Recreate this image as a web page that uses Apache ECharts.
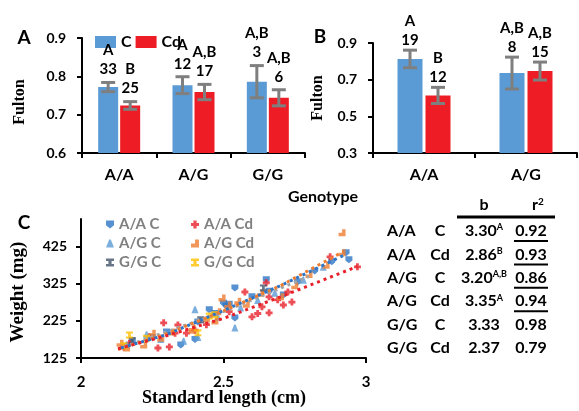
<!DOCTYPE html>
<html><head><meta charset="utf-8">
<script src="https://cdn.jsdelivr.net/npm/echarts@6/dist/echarts.min.js"></script>
<style>html,body{margin:0;padding:0;background:#fff}#c{width:579px;height:411px}</style>
</head><body><div id="c"></div>
<script>
// ---------- Panel A ----------
const genoA = ['A/A', 'A/G', 'G/G'];
const aC = [0.772, 0.777, 0.786];
const aCd = [0.724, 0.759, 0.744];
const aCErr = [0.012, 0.022, 0.042];
const aCdErr = [0.010, 0.020, 0.021];
const aCN = ['33', '12', '3'];
const aCdN = ['25', '17', '6'];
const aCLet = ['A', 'A', 'A,B'];
const aCdLet = ['B', 'A,B', 'A,B'];

// ---------- Panel B ----------
const genoB = ['A/A', 'A/G'];
const bC = [0.813, 0.736];
const bCd = [0.614, 0.747];
const bCErr = [0.048, 0.087];
const bCdErr = [0.044, 0.049];
const bCN = ['19', '8'];
const bCdN = ['12', '15'];
const bCLet = ['A', 'A,B'];
const bCdLet = ['B', 'A,B'];
const bTicks = [0.3, 0.5, 0.7, 0.9];

// ---------- Panel C ----------
const ptsAAC = [[2.18,168],[2.25,180],[2.30,195],[2.35,160],[2.40,175],[2.41,222],[2.45,255],[2.47,245],[2.50,273],[2.51,265],[2.52,270],[2.54,314],[2.54,233],[2.60,290],[2.65,336],[2.66,305],[2.71,295],[2.76,330],[2.82,360],[2.88,385],[2.93,409],[2.94,390]];
const ptsAACd = [[2.15,155],[2.17,165],[2.24,182],[2.27,152],[2.29,220],[2.31,155],[2.33,192],[2.34,214],[2.37,192],[2.40,200],[2.44,215],[2.52,250],[2.575,303],[2.60,236],[2.62,245],[2.635,263],[2.65,328],[2.66,290],[2.66,247],[2.69,282],[2.71,268],[2.726,303],[2.74,276],[2.874,398],[2.97,371]];
const ptsAGC = [[2.16,160],[2.23,188],[2.28,175],[2.36,170],[2.40,255],[2.41,180],[2.48,235],[2.54,206],[2.56,260],[2.62,280],[2.68,300],[2.78,335],[2.85,370]];
const ptsAGCd = [[2.137,165],[2.16,152],[2.22,160],[2.25,192],[2.28,178],[2.32,195],[2.39,206],[2.39,200],[2.44,230],[2.47,225],[2.48,250],[2.495,287],[2.515,268],[2.55,278],[2.58,270],[2.63,300],[2.70,290],[2.75,320],[2.80,350],[2.86,375],[2.916,409],[2.916,463]];
const ptsGGC = [[2.18,172],[2.42,228],[2.64,314]];
const ptsGGCd = [[2.15,158],[2.17,187],[2.23,178],[2.41,193],[2.45,238],[2.47,242]];
const trendAAC = [[2.14,152],[2.3,188],[2.5,253],[2.7,320],[2.93,405]];
const trendAACd = [[2.13,150],[2.3,185],[2.5,232],[2.7,290],[2.97,372]];
const trendAGCd = [[2.13,148],[2.3,190],[2.5,252],[2.7,320],[2.92,412]];
const trendGG = [[2.15,155],[2.5,250],[2.8,345]];
const cYTicks = [125, 225, 325, 425];

// ---------- Table ----------
const tabGeno = ['A/A', 'A/A', 'A/G', 'A/G', 'G/G', 'G/G'];
const tabTreat = ['C', 'Cd', 'C', 'Cd', 'C', 'Cd'];
const tabB = ['3.30', '2.86', '3.20', '3.35', '3.33', '2.37'];
const tabBSup = ['A', 'B', 'A,B', 'A', '', ''];
const tabR2 = ['0.92', '0.93', '0.86', '0.94', '0.98', '0.79'];
const tabR2Under = [true, true, true, true, false, false];

// ---------- styling ----------
const SANS = 'Lato';
const SERIF = 'Liberation Serif';
const BLUE = '#5B9BD5', RED = '#EE1C25';
const ERR = '#7F7F7F';

const chart = echarts.init(document.getElementById('c'), null, {renderer: 'canvas'});

function errRender(vals, errs, ns, lets, offset, nOff) {
  return function (params, api) {
    const i = params.dataIndex;
    const v = vals[i], e = errs[i];
    const top = api.coord([i, v + e]);
    const bot = api.coord([i, v - e]);
    const x = top[0] + offset;
    const cw = 7;
    const st = {stroke: ERR, lineWidth: 3};
    const font = 'bold 15px ' + SANS;
    return {
      type: 'group',
      children: [
        {type: 'line', shape: {x1: x, y1: top[1], x2: x, y2: bot[1]}, style: st},
        {type: 'line', shape: {x1: x - cw, y1: top[1], x2: x + cw, y2: top[1]}, style: st},
        {type: 'line', shape: {x1: x - cw, y1: bot[1], x2: x + cw, y2: bot[1]}, style: st},
        {type: 'text', x: x, y: top[1] - nOff, style: {text: ns[i], font: font, fill: '#000', align: 'center', verticalAlign: 'middle'}},
        {type: 'text', x: x, y: top[1] - nOff - 19, style: {text: lets[i], font: font, fill: '#000', align: 'center', verticalAlign: 'middle'}}
      ]
    };
  };
}

const axLine = {show: true, lineStyle: {color: '#000', width: 2}};
const axTick = {show: true, length: 5, lineStyle: {color: '#000', width: 2}};
const lbl = (size, margin) => ({color: '#000', fontFamily: SANS, fontWeight: 'bold', fontSize: size, margin: margin});

const shield = 'path://M0,0 L10,0 L10,6 L5,10 L0,6 Z';
const plus = 'path://M3,0 H7 V3 H10 V7 H7 V10 H3 V7 H0 V3 H3 Z';
const tri = 'path://M4,0 H6 L10,10 H0 Z';
const ell = 'path://M5,0 H10 V10 H0 V5 H5 Z';
const ibeam = 'path://M0,0 H10 V3 H7 V7 H10 V10 H0 V7 H3 V3 H0 Z';

function scatter(name, data, color, sym) {
  return {type: 'scatter', name: name, xAxisIndex: 2, yAxisIndex: 2, data: data, symbol: sym, symbolSize: 7,
    itemStyle: {color: color}, z: 3};
}
function trend(data, color) {
  return {type: 'line', xAxisIndex: 2, yAxisIndex: 2, data: data, showSymbol: false, symbol: 'none',
    lineStyle: {color: color, width: 3, type: [3, 4]}, z: 5, silent: true};
}

// table graphics
const tabEls = [];
const rowY0 = 231, rowDy = 23.4;
const tf = 'bold 16px ' + SANS;
tabEls.push({type: 'text', x: 484, y: 205, style: {text: 'b', font: tf, fill: '#000', align: 'center', verticalAlign: 'middle'}});
tabEls.push({type: 'text', x: 538, y: 205, style: {text: '{r|r}{s|2}', rich: {r: {font: tf, fill: '#000'}, s: {font: 'bold 10px ' + SANS, fill: '#000', verticalAlign: 'top', padding: [0, 0, 6, 0]}}, align: 'center', verticalAlign: 'middle'}});
tabEls.push({type: 'line', shape: {x1: 457, y1: 217, x2: 555, y2: 217}, style: {stroke: '#000', lineWidth: 3}});
tabGeno.forEach((g, i) => {
  const y = rowY0 + i * rowDy;
  tabEls.push({type: 'text', x: 387, y: y, style: {text: g, font: tf, fill: '#000', align: 'left', verticalAlign: 'middle'}});
  tabEls.push({type: 'text', x: 440, y: y, style: {text: tabTreat[i], font: tf, fill: '#000', align: 'center', verticalAlign: 'middle'}});
  const t = tabBSup[i] ? '{v|' + tabB[i] + '}{s|' + tabBSup[i] + '}' : '{v|' + tabB[i] + '}';
  tabEls.push({type: 'text', x: 484, y: y, style: {text: t, rich: {v: {font: tf, fill: '#000'}, s: {font: 'bold 9px ' + SANS, fill: '#000', padding: [0, 0, 7, 0]}}, align: 'center', verticalAlign: 'middle'}});
  tabEls.push({type: 'text', x: 531, y: y, style: {text: tabR2[i], font: tf, fill: '#000', align: 'center', verticalAlign: 'middle'}});
  if (tabR2Under[i]) tabEls.push({type: 'line', shape: {x1: 514, y1: y + 10, x2: 548, y2: y + 10}, style: {stroke: '#000', lineWidth: 2}});
});

const option = {
  animation: false,
  backgroundColor: '#fff',
  grid: [
    {left: 82, top: 38, width: 223, height: 115},
    {left: 373, top: 43, width: 204, height: 110},
    {left: 81, top: 219, width: 285, height: 139}
  ],
  legend: [
    {data: ['C', 'Cd'], left: 90, top: 29, icon: 'rect', itemWidth: 21, itemHeight: 12, itemGap: 4,
      textStyle: {fontFamily: SANS, fontWeight: 'bold', fontSize: 16, color: '#000'}},
    {data: ['A/A C', 'A/G C', 'G/G C'], orient: 'vertical', left: 101, top: 212, itemWidth: 8, itemHeight: 8, itemGap: 4,
      textStyle: {fontFamily: SANS, fontWeight: 'bold', fontSize: 15, color: '#808080'}},
    {data: ['A/A Cd', 'A/G Cd', 'G/G Cd'], orient: 'vertical', left: 186, top: 212, itemWidth: 8, itemHeight: 8, itemGap: 4,
      textStyle: {fontFamily: SANS, fontWeight: 'bold', fontSize: 15, color: '#808080'}}
  ],
  xAxis: [
    {gridIndex: 0, type: 'category', data: genoA, axisLine: axLine, axisTick: axTick, axisLabel: lbl(16, 14)},
    {gridIndex: 1, type: 'category', data: genoB, axisLine: axLine, axisTick: axTick, axisLabel: lbl(16, 14)},
    {gridIndex: 2, type: 'value', min: 2, max: 3, interval: 0.5, axisLine: axLine, axisTick: axTick,
      axisLabel: lbl(15, 17), splitLine: {show: false}}
  ],
  yAxis: [
    {gridIndex: 0, type: 'value', min: 0.6, max: 0.9, interval: 0.1, axisLine: axLine, axisTick: axTick,
      axisLabel: Object.assign(lbl(14, 16), {formatter: v => v.toFixed(1)}), splitLine: {show: false}},
    {gridIndex: 1, type: 'value', min: 0.3, max: 0.9, axisLine: axLine,
      axisTick: Object.assign({}, axTick, {customValues: bTicks}),
      axisLabel: Object.assign(lbl(14, 16), {customValues: bTicks, formatter: v => v.toFixed(1)}), splitLine: {show: false}},
    {gridIndex: 2, type: 'value', min: 125, max: 500, axisLine: axLine,
      axisTick: Object.assign({}, axTick, {customValues: cYTicks}),
      axisLabel: Object.assign(lbl(14, 14), {customValues: cYTicks}), splitLine: {show: false}}
  ],
  series: [
    {type: 'bar', name: 'C', xAxisIndex: 0, yAxisIndex: 0, data: aC, barWidth: 20, barGap: '10%', itemStyle: {color: BLUE}},
    {type: 'bar', name: 'Cd', xAxisIndex: 0, yAxisIndex: 0, data: aCd, barWidth: 20, barGap: '10%', itemStyle: {color: RED}},
    {type: 'custom', xAxisIndex: 0, yAxisIndex: 0, data: aC.map((v, i) => [i, v]), z: 4,
      renderItem: errRender(aC, aCErr, aCN, aCLet, -11, 13)},
    {type: 'custom', xAxisIndex: 0, yAxisIndex: 0, data: aCd.map((v, i) => [i, v]), z: 4,
      renderItem: errRender(aCd, aCdErr, aCdN, aCdLet, 11, 13)},
    {type: 'bar', name: 'C', xAxisIndex: 1, yAxisIndex: 1, data: bC, barWidth: 25, barGap: '12%', itemStyle: {color: BLUE}},
    {type: 'bar', name: 'Cd', xAxisIndex: 1, yAxisIndex: 1, data: bCd, barWidth: 25, barGap: '12%', itemStyle: {color: RED}},
    {type: 'custom', xAxisIndex: 1, yAxisIndex: 1, data: bC.map((v, i) => [i, v]), z: 4,
      renderItem: errRender(bC, bCErr, bCN, bCLet, -14, 10)},
    {type: 'custom', xAxisIndex: 1, yAxisIndex: 1, data: bCd.map((v, i) => [i, v]), z: 4,
      renderItem: errRender(bCd, bCdErr, bCdN, bCdLet, 14, 10)},
    scatter('A/A C', ptsAAC, '#2E75C6', shield),
    scatter('A/A Cd', ptsAACd, '#E8202A', plus),
    scatter('A/G C', ptsAGC, '#5B9BD5', tri),
    scatter('A/G Cd', ptsAGCd, '#ED7D31', ell),
    scatter('G/G C', ptsGGC, '#44546A', ibeam),
    scatter('G/G Cd', ptsGGCd, '#FFC000', ibeam),
    trend(trendGG, '#A5A5A5'),
    trend(trendAAC, '#2E75C6'),
    trend(trendAGCd, '#ED7D31'),
    trend(trendAACd, '#E8202A')
  ],
  graphic: [
    {type: 'text', x: 24, y: 38, style: {text: 'A', font: 'bold 19px ' + SANS, fill: '#000', align: 'center', verticalAlign: 'middle'}},
    {type: 'text', x: 320, y: 37, style: {text: 'B', font: 'bold 19px ' + SANS, fill: '#000', align: 'center', verticalAlign: 'middle'}},
    {type: 'text', x: 24, y: 223, style: {text: 'C', font: 'bold 19px ' + SANS, fill: '#000', align: 'center', verticalAlign: 'middle'}},
    {type: 'text', x: 323, y: 197, style: {text: 'Genotype', font: 'bold 16px ' + SANS, fill: '#000', align: 'center', verticalAlign: 'middle'}},
    {type: 'text', x: 20, y: 102, rotation: Math.PI / 2, style: {text: 'Fulton', font: 'bold 16px ' + SERIF, fill: '#000', align: 'center', verticalAlign: 'middle'}},
    {type: 'text', x: 318, y: 98, rotation: Math.PI / 2, style: {text: 'Fulton', font: 'bold 16px ' + SERIF, fill: '#000', align: 'center', verticalAlign: 'middle'}},
    {type: 'text', x: 18, y: 292, rotation: Math.PI / 2, style: {text: 'Weight (mg)', font: 'bold 19px ' + SERIF, fill: '#000', align: 'center', verticalAlign: 'middle'}},
    {type: 'text', x: 224, y: 398, style: {text: 'Standard length (cm)', font: 'bold 18px ' + SERIF, fill: '#000', align: 'center', verticalAlign: 'middle'}}
  ].concat(tabEls)
};
chart.setOption(option);
</script>
</body></html>
